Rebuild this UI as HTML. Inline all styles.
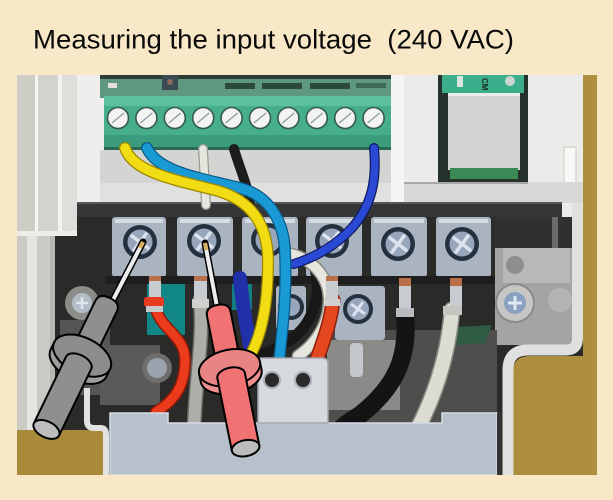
<!DOCTYPE html>
<html><head><meta charset="utf-8"><title>Measuring the input voltage (240 VAC)</title>
<style>html,body{margin:0;padding:0;background:#f8e8c8;width:613px;height:500px;overflow:hidden}svg{display:block}</style>
</head><body>
<svg width="613" height="500" viewBox="0 0 613 500" xmlns="http://www.w3.org/2000/svg">
<defs><clipPath id="ph"><rect x="17" y="75" width="580" height="400"/></clipPath></defs>
<rect width="613" height="500" fill="#f8e8c8"/>
<text x="33" y="48.5" font-family="'Liberation Sans', Arial, sans-serif" font-size="27" textLength="481" lengthAdjust="spacingAndGlyphs" fill="#0a0a0a" xml:space="preserve">Measuring the input voltage  (240 VAC)</text>

<g clip-path="url(#ph)">
<rect x="17" y="75" width="580" height="400" fill="#2a2a28"/>
<rect x="17" y="75" width="570" height="130" fill="#d8d8d4"/>
<rect x="17" y="75" width="18" height="160" fill="#cdcdc6"/>
<rect x="35" y="75" width="3" height="160" fill="#f6f6f2"/>
<rect x="38" y="75" width="20" height="160" fill="#d3d3cd"/>
<rect x="58" y="75" width="4" height="160" fill="#f3f3ef"/>
<rect x="62" y="75" width="15" height="160" fill="#dededa"/>
<rect x="77" y="75" width="27" height="128" fill="#eeeeec"/>
<rect x="17" y="231" width="60" height="5" fill="#ececE8"/>
<rect x="17" y="236" width="38" height="196" fill="#cbcbc5"/>
<rect x="27" y="236" width="10" height="196" fill="#e4e4e0"/>
<rect x="50" y="236" width="5" height="196" fill="#b8b8b2"/>

<rect x="100" y="75" width="295" height="23" fill="#5f9880"/>
<rect x="100" y="75" width="295" height="4" fill="#2b3d35"/>
<rect x="162" y="75" width="16" height="15" fill="#3a4a52"/>
<circle cx="170" cy="82" r="3" fill="#8a6a60"/>
<rect x="108" y="83" width="9" height="5" fill="#e0e0d8"/>
<rect x="225" y="83" width="30" height="6" fill="#2c4a3c"/>
<rect x="262" y="83" width="40" height="6" fill="#2c4a3c"/>
<rect x="310" y="83" width="40" height="6" fill="#2c4a3c"/>
<rect x="356" y="83" width="30" height="5" fill="#3c6a54"/>
<rect x="104" y="96" width="290" height="54" fill="#46ae8c"/>
<rect x="104" y="96" width="290" height="10" fill="#5cc0a0"/>
<rect x="104" y="135" width="290" height="13" fill="#3a9c7c"/>
<rect x="104" y="147" width="290" height="3" fill="#2a6a55"/>
<g fill="#f3f3f1" stroke="#35594b" stroke-width="1.6">
<circle cx="118" cy="118" r="10.5"/><circle cx="146.4" cy="118" r="10.5"/><circle cx="174.8" cy="118" r="10.5"/>
<circle cx="203.2" cy="118" r="10.5"/><circle cx="231.6" cy="118" r="10.5"/><circle cx="260" cy="118" r="10.5"/>
<circle cx="288.4" cy="118" r="10.5"/><circle cx="316.8" cy="118" r="10.5"/><circle cx="345.2" cy="118" r="10.5"/>
<circle cx="373.6" cy="118" r="10.5"/>
</g>
<g stroke="#8a9aa8" stroke-width="1.3">
<line x1="112" y1="123" x2="124" y2="113"/><line x1="140.4" y1="123" x2="152.4" y2="113"/><line x1="168.8" y1="123" x2="180.8" y2="113"/>
<line x1="197.2" y1="123" x2="209.2" y2="113"/><line x1="225.6" y1="123" x2="237.6" y2="113"/><line x1="254" y1="123" x2="266" y2="113"/>
<line x1="282.4" y1="123" x2="294.4" y2="113"/><line x1="310.8" y1="123" x2="322.8" y2="113"/><line x1="339.2" y1="123" x2="351.2" y2="113"/>
<line x1="367.6" y1="123" x2="379.6" y2="113"/>
</g>
<rect x="100" y="150" width="292" height="53" fill="#d4d4d2"/>
<rect x="100" y="183" width="292" height="20" fill="#e0e0de"/>
<rect x="391" y="75" width="13" height="128" fill="#f5f5f3"/>
<rect x="404" y="75" width="34" height="108" fill="#ebebe9"/>
<rect x="438" y="75" width="90" height="107" fill="#26332c"/>
<rect x="442" y="75" width="82" height="18" fill="#3cae8c"/>
<rect x="457" y="76" width="6" height="11" fill="#d8e8e0"/>
<text x="0" y="0" transform="translate(482,78) rotate(90)" font-family="'Liberation Sans', Arial, sans-serif" font-size="8" font-weight="bold" fill="#1a2a22">CM</text>
<circle cx="510" cy="81" r="5" fill="#c8d8d0"/>
<rect x="448" y="93" width="72" height="77" fill="#d3d3d1"/>
<rect x="448" y="93" width="72" height="3" fill="#ececea"/>
<rect x="450" y="168" width="68" height="11" fill="#3a8a55"/>
<rect x="528" y="75" width="55" height="175" fill="#ebebe9"/>
<rect x="564" y="147" width="12" height="47" fill="#f8f8f6" stroke="#c8c8c4" stroke-width="1"/>
<rect x="404" y="182" width="179" height="21" fill="#d8d8d6"/>
<rect x="404" y="182" width="124" height="2" fill="#a8a8a8"/>

<rect x="77" y="202" width="485" height="15" fill="#343638"/>
<rect x="77" y="202" width="485" height="2" fill="#55575a"/>

<rect x="495" y="217" width="77" height="31" fill="#303030"/>
<rect x="552" y="217" width="6" height="31" fill="#6a6a6a"/>
<rect x="495" y="248" width="77" height="97" fill="#a4a4a2"/>
<rect x="503" y="248" width="67" height="35" fill="#b8b8b6"/>
<circle cx="515" cy="265" r="9" fill="#8e8e8c"/>
<circle cx="515" cy="303" r="19" fill="#c6c6c4" stroke="#8a8a88" stroke-width="2"/>
<circle cx="515" cy="303" r="11" fill="#8aa0c0"/>
<path d="M508,303 H522 M515,296 V310" stroke="#e0e8f4" stroke-width="3"/>
<circle cx="560" cy="300" r="12" fill="#b4b4b2"/>

<rect x="327" y="330" width="170" height="95" fill="#4e4e4c"/>
<rect x="327" y="340" width="73" height="70" fill="#8a8a88"/>
<polygon points="457,327 492,325 485,343 457,345" fill="#2f5a44"/>

<rect x="60" y="320" width="50" height="75" fill="#555553"/>
<circle cx="82" cy="303" r="17" fill="#8c8c88"/>
<circle cx="82" cy="303" r="10" fill="#b4bcc8"/>
<path d="M76,303 H88 M82,297 V309" stroke="#e0e6ee" stroke-width="2.5"/>
<rect x="100" y="345" width="60" height="60" fill="#5a5a58"/>
<circle cx="157" cy="368" r="15" fill="#6e6e6c"/>
<circle cx="157" cy="368" r="10" fill="#9aa2ae"/>

<rect x="147" y="282" width="38" height="53" fill="#118686"/>
<rect x="232" y="280" width="20" height="30" fill="#137e82"/>

<g fill="#aab3c0">
<rect x="112" y="217" width="54" height="60" rx="3"/>
<rect x="177" y="217" width="56" height="60" rx="3"/>
<rect x="242" y="217" width="56" height="60" rx="3"/>
<rect x="306" y="217" width="56" height="60" rx="3"/>
<rect x="371" y="217" width="56" height="60" rx="3"/>
<rect x="436" y="217" width="55" height="60" rx="3"/>
</g>
<g fill="#d6dce4">
<rect x="115" y="219" width="48" height="4"/><rect x="180" y="219" width="50" height="4"/><rect x="245" y="219" width="50" height="4"/>
<rect x="309" y="219" width="50" height="4"/><rect x="374" y="219" width="50" height="4"/><rect x="439" y="219" width="49" height="4"/>
</g>
<g fill="#25303f">
<circle cx="140" cy="242" r="17"/><circle cx="204" cy="241" r="17"/><circle cx="268" cy="240" r="17"/>
<circle cx="332" cy="241" r="17"/><circle cx="398" cy="244" r="17"/><circle cx="462" cy="244" r="17"/>
</g>
<g fill="#98a6bc">
<circle cx="140" cy="242" r="12.5"/><circle cx="204" cy="241" r="12.5"/><circle cx="268" cy="240" r="12.5"/>
<circle cx="332" cy="241" r="12.5"/><circle cx="398" cy="244" r="12.5"/><circle cx="462" cy="244" r="12.5"/>
</g>
<g stroke="#dce3ee" stroke-width="3.5" stroke-linecap="round">
<path d="M132,236 L148,248 M146,234 L134,250"/>
<path d="M196,235 L212,247 M210,233 L198,249"/>
<path d="M324,235 L340,247 M338,233 L326,249"/>
<path d="M390,238 L406,250 M404,236 L392,252"/>
<path d="M454,238 L470,250 M468,236 L456,252"/>
</g>
<rect x="105" y="276" width="390" height="8" fill="#1e1e1e"/>

<rect x="335" y="286" width="50" height="54" rx="3" fill="#aab3c0"/>
<circle cx="358" cy="309" r="15" fill="#25303f"/>
<circle cx="358" cy="309" r="11" fill="#98a6bc"/>
<path d="M351,304 L365,314 M363,302 L353,316" stroke="#dce3ee" stroke-width="3"/>
<rect x="276" y="286" width="30" height="44" rx="3" fill="#aab3c0"/>
<circle cx="291" cy="307" r="13" fill="#25303f"/>
<circle cx="291" cy="307" r="9" fill="#98a6bc"/>

<g fill="none" stroke-linecap="round">
<path d="M203,149 L206,205" stroke="#999990" stroke-width="10"/>
<path d="M203,149 L206,205" stroke="#e6e6de" stroke-width="7.5"/>
<path d="M234,149 C240,170 248,185 250,205" stroke="#1c1c1c" stroke-width="10"/>
<path d="M240,278 C242,300 245,320 250,345" stroke="#2030a8" stroke-width="14"/>
<path d="M314,266 C322,290 316,322 290,340 C278,348 268,352 258,356" stroke="#181818" stroke-width="11"/>
<path d="M286,253 C310,257 329,275 329,300 C329,322 318,342 298,356" stroke="#888880" stroke-width="13"/>
<path d="M286,253 C310,257 329,275 329,300 C329,322 318,342 298,356" stroke="#e6e6de" stroke-width="10"/>
<path d="M374,148 C377,180 372,205 352,228 C336,245 316,257 294,264" stroke="#101a60" stroke-width="10"/>
<path d="M374,148 C377,180 372,205 352,228 C336,245 316,257 294,264" stroke="#2a4ad6" stroke-width="7.5"/>
<path d="M147,148 C158,172 200,178 240,188 C270,196 284,222 285,252 C287,292 283,325 279,362" stroke="#0a5a88" stroke-width="12"/>
<path d="M147,148 C158,172 200,178 240,188 C270,196 284,222 285,252 C287,292 283,325 279,362" stroke="#1a9ad4" stroke-width="9.5"/>
<path d="M125,148 C133,172 175,180 215,190 C252,200 268,225 268,262 C268,300 263,330 252,352" stroke="#9a8600" stroke-width="12"/>
<path d="M125,148 C133,172 175,180 215,190 C252,200 268,225 268,262 C268,300 263,330 252,352" stroke="#f2dc14" stroke-width="9.5"/>
<path d="M155,306 C160,330 185,335 185,360 C185,386 175,400 156,412" stroke="#901808" stroke-width="12"/>
<path d="M155,306 C160,330 185,335 185,360 C185,386 175,400 156,412" stroke="#ea3c1c" stroke-width="9"/>
<path d="M333,300 C331,322 323,342 316,362" stroke="#8a2010" stroke-width="15"/>
<path d="M333,300 C331,322 323,342 316,362" stroke="#e4461e" stroke-width="12"/>
<path d="M200,300 C204,340 195,380 194,432" stroke="#6a6a66" stroke-width="15"/>
<path d="M200,300 C204,340 195,380 194,432" stroke="#aeaea8" stroke-width="12"/>
<path d="M405,312 C408,350 402,382 360,415 C352,420 345,424 340,430" stroke="#141414" stroke-width="18"/>
<path d="M452,310 C449,345 440,385 418,428" stroke="#8a8a84" stroke-width="17"/>
<path d="M452,310 C449,345 440,385 418,428" stroke="#dcdcd2" stroke-width="14"/>
</g>

<rect x="149" y="276" width="12" height="23" fill="#c8ccd0"/>
<rect x="149" y="276" width="12" height="5" fill="#b8704a"/>
<rect x="144" y="297" width="20" height="10" rx="3" fill="#e83a20"/>
<rect x="146" y="306" width="17" height="6" fill="#c8c8c8"/>
<rect x="194" y="276" width="13" height="24" fill="#c8ccd0"/>
<rect x="194" y="276" width="13" height="5" fill="#b8704a"/>
<rect x="192" y="299" width="17" height="9" fill="#cfcfcf"/>
<rect x="326" y="276" width="12" height="24" fill="#c8ccd0"/>
<rect x="326" y="276" width="12" height="5" fill="#b8704a"/>
<rect x="325" y="299" width="15" height="7" fill="#d0d0d0"/>
<rect x="399" y="278" width="12" height="32" fill="#c8ccd0"/>
<rect x="399" y="278" width="12" height="8" fill="#b87048"/>
<rect x="396" y="308" width="18" height="9" fill="#b8bcc0"/>
<rect x="450" y="278" width="12" height="30" fill="#c8ccd0"/>
<rect x="450" y="278" width="12" height="8" fill="#b87048"/>
<rect x="443" y="306" width="19" height="9" fill="#c4c4c0"/>
<rect x="350" y="343" width="13" height="34" rx="4" fill="#c4c8cc"/>

<path d="M110,475 V413 H168 V423 H442 V413 H497 V475 Z" fill="#b8c0cc" stroke="#d6dce4" stroke-width="1.5"/>
<path d="M258,423 V362 Q258,358 262,358 H322 Q328,358 328,364 V423 Z" fill="#d6d9de" stroke="#a0a6ae" stroke-width="1.5"/>
<circle cx="272" cy="380" r="8" fill="#2a2a2a" stroke="#a8aeb6" stroke-width="2"/>
<circle cx="303" cy="380" r="8" fill="#2a2a2a" stroke="#a8aeb6" stroke-width="2"/>
<rect x="497" y="413" width="5" height="62" fill="#333"/>

<rect x="583" y="75" width="14" height="400" fill="#ae8f40"/>
<path d="M513,475 V372 Q513,356 530,356 H583 V475 Z" fill="#ad8e3e"/>
<path d="M577.5,203 V338 Q577.5,350 566,350 H528 Q508,350 508,370 V475" fill="none" stroke="#e0e0de" stroke-width="11"/>
<rect x="17" y="430" width="88" height="45" fill="#a98a3b"/>
<path d="M87,388 V421 Q87,428 94,428 H101 Q106,428 106,435 V475" fill="none" stroke="#e2e2e0" stroke-width="6"/>
</g>

<line x1="143" y1="242" x2="112" y2="302" stroke="#000" stroke-width="7" stroke-linecap="round"/>
<line x1="143" y1="242" x2="112" y2="302" stroke="#ececec" stroke-width="4"/>
<line x1="143" y1="242" x2="140" y2="248" stroke="#d8b060" stroke-width="4"/>
<line x1="205" y1="243" x2="218" y2="312" stroke="#000" stroke-width="7" stroke-linecap="round"/>
<line x1="205" y1="243" x2="218" y2="312" stroke="#ececec" stroke-width="4"/>
<line x1="205" y1="243" x2="206.3" y2="250" stroke="#d8b060" stroke-width="4"/>

<g transform="translate(110,298) rotate(25.8)" stroke="#000" stroke-width="2" stroke-linejoin="round">
<path d="M-12,70 V9 Q-12,0 0,0 Q12,0 12,9 V70 Z" fill="#8f8f8f"/>
<path d="M-31,64 V72 A31,18 0 0 0 31,72 V64 Z" fill="#9d9d9d"/>
<ellipse cx="0" cy="64" rx="31" ry="18" fill="#8c8c8c"/>
<path d="M-14,146 V72 A14,8 0 0 1 14,72 V146 Z" fill="#8f8f8f"/>
<ellipse cx="0" cy="146" rx="14" ry="8" fill="#bdbdbd"/>
</g>
<g transform="translate(217,305) rotate(-11.3)" stroke="#000" stroke-width="2" stroke-linejoin="round">
<path d="M-12,70 V9 Q-12,0 0,0 Q12,0 12,9 V70 Z" fill="#f07272"/>
<path d="M-31,64 V72 A31,18 0 0 0 31,72 V64 Z" fill="#ee9090"/>
<ellipse cx="0" cy="64" rx="31" ry="18" fill="#e88484"/>
<path d="M-14,146 V72 A14,8 0 0 1 14,72 V146 Z" fill="#f07272"/>
<ellipse cx="0" cy="146" rx="14" ry="8" fill="#bcbcbc"/>
</g>
</svg>
</body></html>
